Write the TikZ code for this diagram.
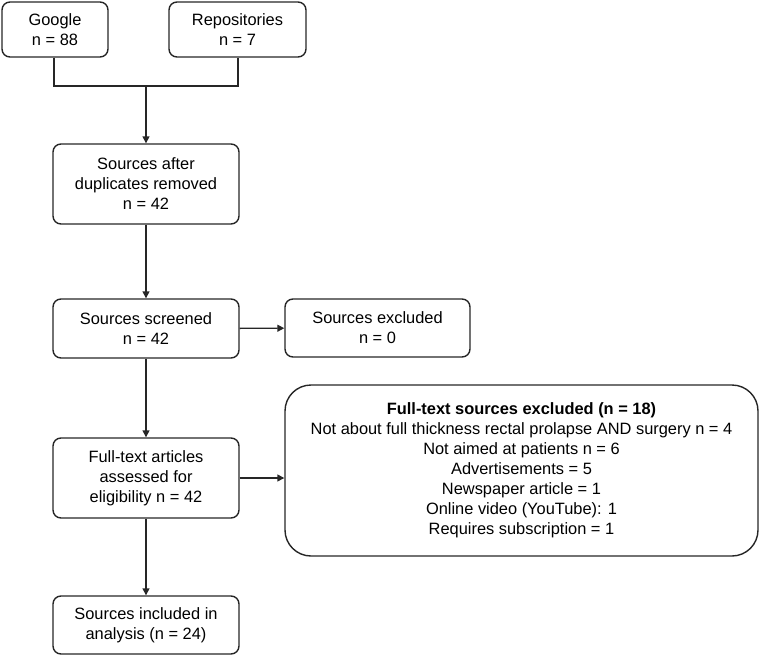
\documentclass[tikz,border=0pt]{standalone}
\usepackage{fontspec}
\setmainfont{Liberation Sans}
\usetikzlibrary{arrows.meta}
\begin{document}
\begin{tikzpicture}[x=1pt,y=-1pt,
  every node/.style={font=\fontsize{16.4}{20}\selectfont},
  box/.style={draw=black!85, line width=1.4pt, rounded corners=8pt, align=center, inner sep=0pt},
  conn/.style={draw=black!85, line width=1.4pt},
  arr/.style={conn, -{Triangle[length=7pt,width=7pt]}}]
\useasboundingbox (0,0) rectangle (761,656);
\node[box, minimum width=106pt, minimum height=55pt] (google) at (55,29.5) {Google\\n = 88};
\node[box, minimum width=137pt, minimum height=55pt] (repo) at (237.5,29.5) {Repositories\\n = 7};
\node[box, minimum width=186pt, minimum height=80pt] (dup) at (146,184) {Sources after\\duplicates removed\\n = 42};
\node[box, minimum width=186pt, minimum height=59pt] (scr) at (146,328.5) {Sources screened\\n = 42};
\node[box, minimum width=185pt, minimum height=58pt] (exc) at (377.5,328) {Sources excluded\\n = 0};
\node[box, minimum width=186pt, minimum height=80pt] (full) at (146,478) {Full-text articles\\assessed for\\eligibility n = 42};
\node[box, minimum width=473pt, minimum height=171pt, rounded corners=26pt] (ftx) at (521.5,470.5) {\textbf{Full-text sources excluded (n = 18)}\\Not about full thickness rectal prolapse AND surgery n = 4\\Not aimed at patients n = 6\\Advertisements = 5\\Newspaper article = 1\\Online video (YouTube): 1\\Requires subscription = 1};
\node[box, minimum width=186pt, minimum height=58pt] (inc) at (146,625) {Sources included in\\analysis (n = 24)};
\coordinate (jl) at (54,86);
\coordinate (jr) at (238,86);
\coordinate (jm) at (146,86);
\draw[conn] (google.south -| jl) -- (jl) -- (jr) -- (repo.south -| jr);
\draw[arr] (jm) -- (dup.north);
\draw[arr] (dup) -- (scr);
\draw[arr] (scr) -- (exc);
\draw[arr] (scr) -- (full);
\draw[arr] (full.east) -- (full.east -| ftx.west);
\draw[arr] (full) -- (inc);
\end{tikzpicture}
\end{document}
